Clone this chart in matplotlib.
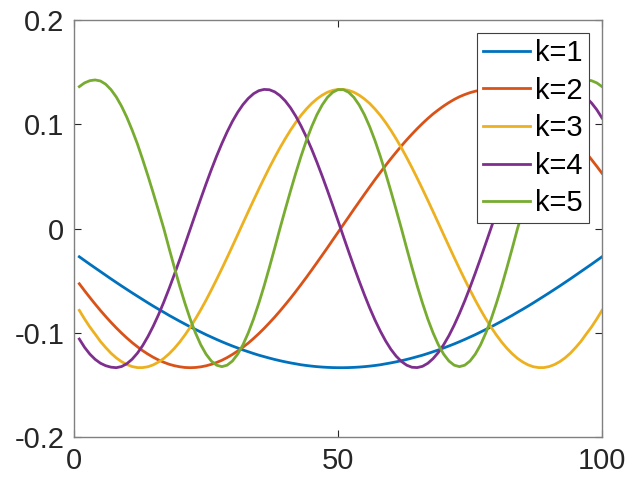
"""Eigenvecteurs k=1..5 sur 100 points."""
import matplotlib
matplotlib.use("Agg")
import matplotlib.pyplot as plt

# indice des points (1..100)
x = list(range(1, 101))

k1 = [-0.0271, -0.0307, -0.0343, -0.0378, -0.0413, -0.0448, -0.0483, -0.0517, -0.0551, -0.0584,
      -0.0617, -0.0649, -0.0681, -0.0713, -0.0744, -0.0774, -0.0803, -0.0833, -0.0861, -0.0889,
      -0.0916, -0.0943, -0.0968, -0.0993, -0.1018, -0.1041, -0.1064, -0.1086, -0.1107, -0.1127,
      -0.1146, -0.1165, -0.1182, -0.1199, -0.1215, -0.1229, -0.1243, -0.1256, -0.1268, -0.1279,
      -0.1289, -0.1298, -0.1307, -0.1314, -0.1320, -0.1325, -0.1329, -0.1332, -0.1334, -0.1335,
      -0.1335, -0.1334, -0.1332, -0.1329, -0.1325, -0.1320, -0.1314, -0.1307, -0.1298, -0.1289,
      -0.1279, -0.1268, -0.1256, -0.1243, -0.1229, -0.1215, -0.1199, -0.1182, -0.1165, -0.1146,
      -0.1127, -0.1107, -0.1086, -0.1064, -0.1041, -0.1018, -0.0993, -0.0968, -0.0943, -0.0916,
      -0.0889, -0.0861, -0.0833, -0.0803, -0.0774, -0.0744, -0.0713, -0.0681, -0.0649, -0.0617,
      -0.0584, -0.0551, -0.0517, -0.0483, -0.0448, -0.0413, -0.0378, -0.0343, -0.0307, -0.0271]

k2 = [-0.0530, -0.0597, -0.0662, -0.0725, -0.0786, -0.0844, -0.0900, -0.0953, -0.1003, -0.1050,
      -0.1094, -0.1134, -0.1172, -0.1205, -0.1235, -0.1261, -0.1283, -0.1302, -0.1316, -0.1326,
      -0.1333, -0.1335, -0.1333, -0.1327, -0.1317, -0.1303, -0.1285, -0.1264, -0.1238, -0.1208,
      -0.1175, -0.1138, -0.1099, -0.1055, -0.1008, -0.0958, -0.0905, -0.0850, -0.0792, -0.0731,
      -0.0669, -0.0604, -0.0537, -0.0469, -0.0399, -0.0328, -0.0256, -0.0184, -0.0110, -0.0037,
      0.0037, 0.0110, 0.0184, 0.0256, 0.0328, 0.0399, 0.0469, 0.0537, 0.0604, 0.0669,
      0.0731, 0.0792, 0.0850, 0.0905, 0.0958, 0.1008, 0.1055, 0.1099, 0.1138, 0.1175,
      0.1208, 0.1238, 0.1264, 0.1285, 0.1303, 0.1317, 0.1327, 0.1333, 0.1335, 0.1333,
      0.1326, 0.1316, 0.1302, 0.1283, 0.1261, 0.1235, 0.1205, 0.1172, 0.1134, 0.1094,
      0.1050, 0.1003, 0.0953, 0.0900, 0.0844, 0.0786, 0.0725, 0.0662, 0.0597, 0.0530]

k3 = [-0.0785, -0.0868, -0.0945, -0.1013, -0.1083, -0.1142, -0.1196, -0.1241, -0.1277, -0.1305,
      -0.1324, -0.1334, -0.1334, -0.1326, -0.1308, -0.1281, -0.1246, -0.1202, -0.1150, -0.1090,
      -0.1022, -0.0948, -0.0867, -0.0780, -0.0688, -0.0590, -0.0489, -0.0385, -0.0278, -0.0169,
      -0.0059, 0.0052, 0.0162, 0.0271, 0.0378, 0.0482, 0.0584, 0.0681, 0.0774, 0.0861,
      0.0943, 0.1018, 0.1086, 0.1146, 0.1199, 0.1243, 0.1279, 0.1307, 0.1325, 0.1334,
      0.1334, 0.1325, 0.1307, 0.1279, 0.1243, 0.1199, 0.1146, 0.1086, 0.1018, 0.0943,
      0.0861, 0.0774, 0.0681, 0.0584, 0.0482, 0.0378, 0.0271, 0.0162, 0.0052, -0.0059,
      -0.0169, -0.0278, -0.0385, -0.0489, -0.0590, -0.0688, -0.0780, -0.0867, -0.0948, -0.1022,
      -0.1090, -0.1150, -0.1202, -0.1246, -0.1281, -0.1308, -0.1326, -0.1334, -0.1334, -0.1324,
      -0.1305, -0.1277, -0.1241, -0.1196, -0.1142, -0.1083, -0.1013, -0.0945, -0.0868, -0.0785]

k4 = [-0.1060, -0.1140, -0.1205, -0.1255, -0.1292, -0.1316, -0.1330, -0.1335, -0.1324, -0.1297,
      -0.1254, -0.1196, -0.1123, -0.1036, -0.0937, -0.0827, -0.0706, -0.0577, -0.0441, -0.0300,
      -0.0154, -0.0007, 0.0140, 0.0285, 0.0427, 0.0564, 0.0694, 0.0815, 0.0927, 0.1028,
      0.1115, 0.1189, 0.1248, 0.1293, 0.1322, 0.1334, 0.1331, 0.1311, 0.1275, 0.1224,
      0.1158, 0.1077, 0.0983, 0.0878, 0.0762, 0.0636, 0.0503, 0.0364, 0.0220, 0.0074,
      -0.0074, -0.0220, -0.0364, -0.0503, -0.0636, -0.0762, -0.0878, -0.0983, -0.1077, -0.1158,
      -0.1224, -0.1275, -0.1311, -0.1331, -0.1334, -0.1322, -0.1293, -0.1248, -0.1189, -0.1115,
      -0.1028, -0.0927, -0.0815, -0.0694, -0.0564, -0.0427, -0.0285, -0.0140, 0.0007, 0.0154,
      0.0300, 0.0441, 0.0577, 0.0706, 0.0827, 0.0937, 0.1036, 0.1123, 0.1196, 0.1254,
      0.1297, 0.1324, 0.1335, 0.1330, 0.1316, 0.1292, 0.1255, 0.1205, 0.1140, 0.1060]

k5 = [0.1361, 0.1397, 0.1418, 0.1425, 0.1415, 0.1384, 0.1332, 0.1262, 0.1173, 0.1067,
      0.0945, 0.0812, 0.0662, 0.0505, 0.0341, 0.0172, 0.0000, -0.0189, -0.0373, -0.0551,
      -0.0716, -0.0868, -0.1001, -0.1115, -0.1205, -0.1271, -0.1311, -0.1325, -0.1311, -0.1271,
      -0.1205, -0.1115, -0.1001, -0.0868, -0.0716, -0.0551, -0.0373, -0.0189, 0.0000, 0.0182,
      0.0360, 0.0532, 0.0694, 0.0843, 0.0976, 0.1091, 0.1185, 0.1258, 0.1307, 0.1332,
      0.1332, 0.1307, 0.1258, 0.1185, 0.1091, 0.0976, 0.0843, 0.0694, 0.0532, 0.0360,
      0.0182, 0.0000, -0.0189, -0.0373, -0.0551, -0.0716, -0.0868, -0.1001, -0.1115, -0.1205,
      -0.1271, -0.1311, -0.1325, -0.1311, -0.1271, -0.1205, -0.1115, -0.1001, -0.0868, -0.0716,
      -0.0551, -0.0373, -0.0189, 0.0000, 0.0172, 0.0341, 0.0505, 0.0662, 0.0812, 0.0945,
      0.1067, 0.1173, 0.1262, 0.1332, 0.1384, 0.1415, 0.1425, 0.1418, 0.1397, 0.1361]

series = [k1, k2, k3, k4, k5]
labels = ["k=1", "k=2", "k=3", "k=4", "k=5"]
colors = ["#0072BD", "#D95319", "#EDB120", "#7E2F8E", "#77AC30"]

plt.rcParams["font.family"] = ["Liberation Sans", "DejaVu Sans"]

fig = plt.figure(figsize=(6.3, 4.83), dpi=100)
ax = fig.add_axes([0.1175, 0.0952, 0.8381, 0.8634])

for y, lab, c in zip(series, labels, colors):
    ax.plot(x, y, color=c, lw=2, label=lab, solid_joinstyle="round")

ax.set_xlim(0, 100)
ax.set_ylim(-0.2, 0.2)
ax.set_xticks([0, 50, 100])
ax.set_yticks([-0.2, -0.1, 0, 0.1, 0.2])
ax.set_yticklabels(["-0.2", "-0.1", "0", "0.1", "0.2"])
ax.tick_params(direction="in", top=True, right=True, length=5, width=0.8,
               color="#262626", labelsize=21, labelcolor="#262626", pad=7)
for s in ax.spines.values():
    s.set_color("#808080")
    s.set_linewidth(1.0)

leg = ax.legend(loc="upper right", fontsize=21, frameon=True, fancybox=False,
                framealpha=1, edgecolor="#404040", handlelength=1.6,
                handletextpad=0.2, borderpad=0.2, labelspacing=0.33,
                borderaxespad=0.45)
leg.get_frame().set_linewidth(0.8)

fig.savefig("out.png", dpi=100)
